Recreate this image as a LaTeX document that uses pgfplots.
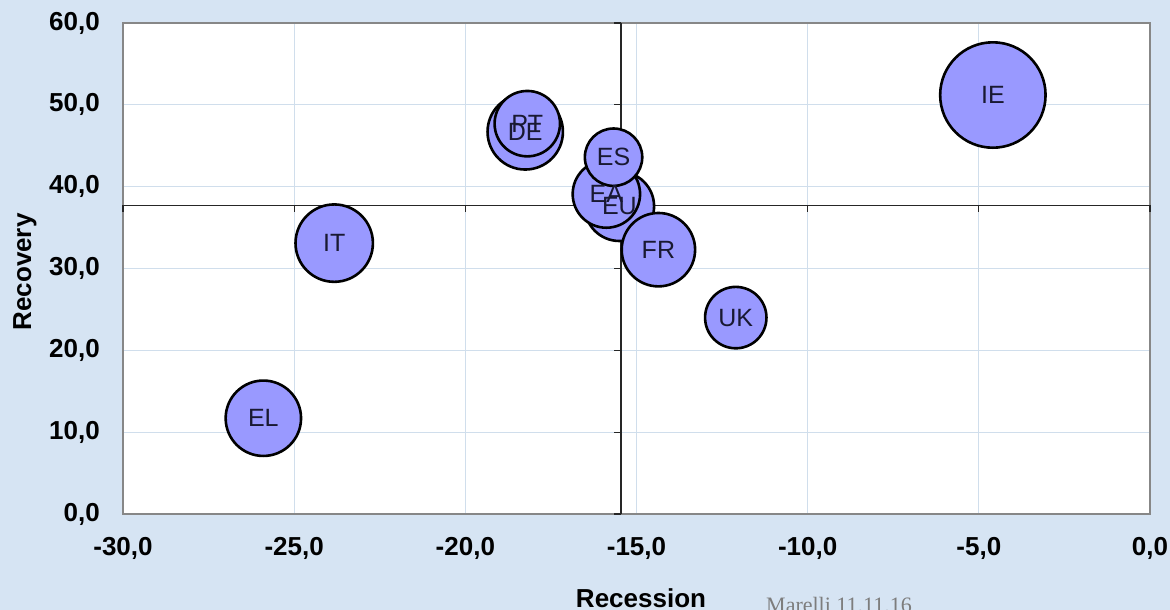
\documentclass[border=0pt]{standalone}
\usepackage{fontspec}
\setmainfont{Liberation Sans}
\newfontfamily\serifnote{Liberation Serif}
\usepackage{pgfplots}
\pgfplotsset{compat=1.18}
\usepackage{pgfplotstable}

\definecolor{bgblue}{RGB}{214,228,243}
\definecolor{bubble}{RGB}{153,153,255}
\definecolor{gridc}{RGB}{208,222,236}
\definecolor{framec}{RGB}{135,135,135}
\definecolor{labeltext}{RGB}{25,25,50}
\definecolor{notegray}{RGB}{125,125,125}

% country, recession (x), recovery (y), bubble radius
\pgfplotstableread{
label x y r
IE -4.59 51.2 54
DE -18.25 46.7 39
PT -18.19 47.7 34
IT -23.83 33.1 40
EL -25.90 11.7 39
EU -15.50 37.6 36
EA -15.88 39.1 35
ES -15.67 43.6 30
FR -14.36 32.3 38
UK -12.10 24.0 32
}\bubbles

\begin{document}
\begin{tikzpicture}[x=1pt,y=1pt]
\path[use as bounding box] (0,0) rectangle (1170,610);
\fill[bgblue] (0,0) rectangle (1170,610);
\begin{axis}[
  at={(123pt,96pt)}, anchor=south west,
  scale only axis, width=1027pt, height=491pt,
  xmin=-30, xmax=0, ymin=0, ymax=60,
  xtick={-30,-25,-20,-15,-10,-5,0},
  ytick={0,10,20,30,40,50,60},
  xticklabels={{-30,0},{-25,0},{-20,0},{-15,0},{-10,0},{-5,0},{0,0}},
  yticklabels={{0,0},{10,0},{20,0},{30,0},{40,0},{50,0},{60,0}},
  major tick length=0pt,
  grid=major, grid style={gridc, line width=0.8pt},
  axis line style={framec, line width=1.6pt},
  axis background/.style={fill=white},
  tick label style={font=\fontsize{26}{31}\selectfont\bfseries, inner sep=0pt},
  xticklabel style={anchor=north, yshift=-23pt},
  yticklabel style={anchor=east, xshift=-23pt},
  xlabel={Recession}, ylabel={Recovery},
  label style={font=\fontsize{26}{31}\selectfont\bfseries, inner sep=0pt},
  x label style={at={(axis description cs:0.5044,-0.1507)}, anchor=north},
  y label style={at={(axis description cs:-0.1071,0.4929)}, anchor=north},
  clip=false,
]
% crossing axes at the EU position, with their tick marks
\draw[black!85, line width=1.3pt] (axis cs:-15.45,0) -- (axis cs:-15.45,60);
\draw[black!85, line width=1.3pt] (axis cs:-30,37.7) -- (axis cs:0,37.7);
\pgfplotsinvokeforeach{0,10,20,30,40,50,60}{
  \draw[black!85, line width=1.3pt] (axis cs:-15.45,#1) -- ([xshift=-7pt]axis cs:-15.45,#1);
}
\pgfplotsinvokeforeach{-30,-25,-20,-15,-10,-5,0}{
  \draw[black!85, line width=1.3pt] (axis cs:#1,37.7) -- ([yshift=-7pt]axis cs:#1,37.7);
}

% bubbles, radius taken from column r
\addplot[
  scatter, only marks, mark=*,
  mark options={line width=2.6pt},
  visualization depends on={\thisrow{r}-1.3 \as \rad},
  scatter/use mapped color={draw=black, fill=bubble},
  scatter/@pre marker code/.append style={/tikz/mark size=\rad},
] table[x=x, y=y] {\bubbles};

% country codes on top of all bubbles
\addplot[
  draw=none, mark=none,
  point meta=explicit symbolic,
  nodes near coords,
  every node near coord/.append style={anchor=center, inner sep=0pt,
    font=\fontsize{25}{29}\selectfont, text=labeltext},
] table[x=x, y=y, meta=label] {\bubbles};
\end{axis}
\node[anchor=base west, inner sep=0pt, font=\serifnote\fontsize{22}{26}\selectfont,
  text=notegray] at (766,-2.6) {Marelli 11.11.16};
\end{tikzpicture}
\end{document}
